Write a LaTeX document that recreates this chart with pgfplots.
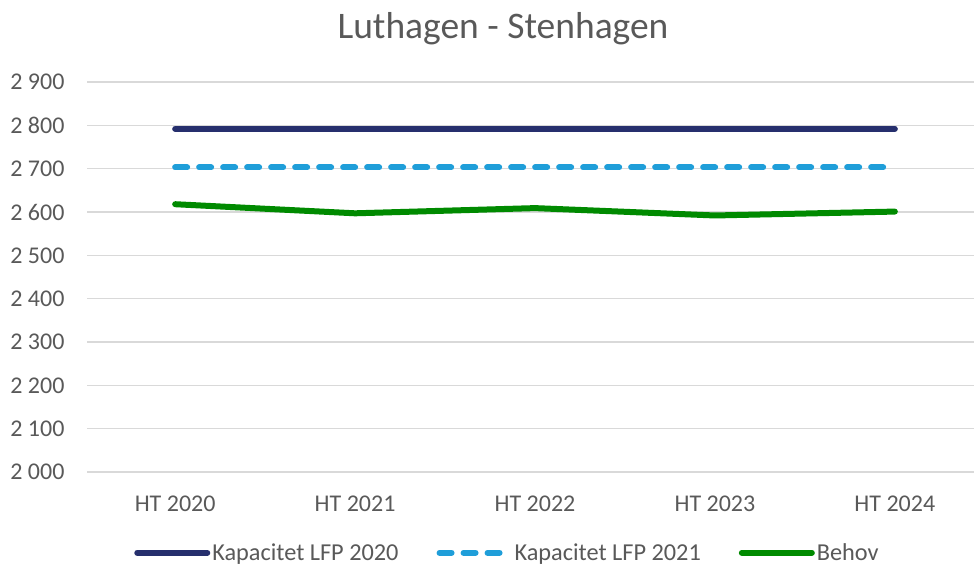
\documentclass[border=0pt]{standalone}
\usepackage{pgfplots}
\pgfplotsset{compat=1.18}
\usepackage{fontspec}
\setmainfont{Carlito}
\definecolor{navy}{HTML}{262F6D}
\definecolor{lblue}{HTML}{1F9ED9}
\definecolor{grn}{HTML}{008A00}
\definecolor{txt}{HTML}{595959}
\definecolor{gridc}{HTML}{D9D9D9}
\begin{document}
\begin{tikzpicture}[x=1pt,y=1pt]
\path[use as bounding box] (0,0) rectangle (974,-567);
\node[text=txt, font=\fontsize{37.5}{42}\selectfont] at (503,-29) {Luthagen - Stenhagen};
\begin{axis}[
  at={(87pt,-472pt)}, anchor=south west,
  scale only axis, width=887pt, height=390pt,
  xmin=-0.49, xmax=4.44, ymin=2000, ymax=2900,
  ytick={2000,2100,...,2900},
  yticklabels={2 000,2 100,2 200,2 300,2 400,2 500,2 600,2 700,2 800,2 900},
  xtick={0,1,2,3,4},
  xticklabels={HT 2020,HT 2021,HT 2022,HT 2023,HT 2024},
  axis line style={draw=none},
  major tick length=0pt,
  ymajorgrids,
  grid style={gridc, line width=1.3pt},
  tick label style={font=\fontsize{24}{28}\selectfont, text=txt},
  yticklabel style={xshift=-19pt},
  xticklabel style={yshift=-20pt},
  clip=false,
  legend columns=3,
  legend style={at={(0.474,-0.207)}, anchor=center, draw=none,
    font=\fontsize{24.3}{28}\selectfont, text=txt,
    /tikz/every even column/.append style={column sep=36pt},
    nodes={inner xsep=2pt},
    inner sep=0pt},
  legend image code/.code={\draw[#1] (0pt,0pt) -- (70pt,0pt);},
  legend cell align=left,
]
\addplot[navy, line width=6pt, line cap=round] coordinates {(0,2792) (1,2792) (2,2792) (3,2792) (4,2792)};
\addlegendentry{Kapacitet LFP 2020}
\addplot[lblue, line width=6pt, line cap=round, dash pattern=on 12pt off 12pt] coordinates {(0,2703) (1,2703) (2,2703) (3,2703) (4,2703)};
\addlegendentry{Kapacitet LFP 2021}
\addplot[grn, line width=6pt, line cap=round, line join=round] coordinates {(0,2618) (1,2597) (2,2609) (3,2592) (4,2601)};
\addlegendentry{Behov}
\end{axis}
\end{tikzpicture}
\end{document}
